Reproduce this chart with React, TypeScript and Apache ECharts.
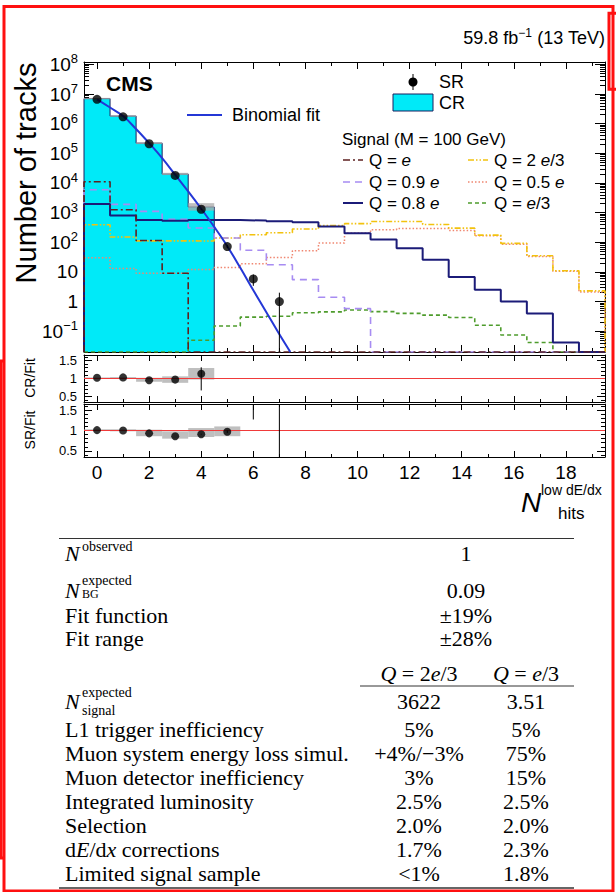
import React, { useEffect, useRef } from 'react';
import * as echarts from 'echarts';

// ---------------- data ----------------
const Y_MIN = 0.02;
const Y_MAX = 1.2e8;
const X_MIN = -0.5;
const X_MAX = 19.5;
const R_MIN = 0.35;
const R_MAX = 1.65;

// control region histogram (bins 0..4)
const crCounts = [7.0e6, 1.8e6, 2.2e5, 2.0e4, 1.55e3];
const crBandLow = [6.6e6, 1.7e6, 2.05e5, 1.85e4, 1.17e3];
const crBandHigh = [7.4e6, 1.9e6, 2.35e5, 2.2e4, 2.09e3];

// signal region observed (bins 0..7)
const srCounts = [6.6e6, 1.7e6, 2.1e5, 1.8e4, 1.3e3, 72, 5.8, 1];
const srErrLow = [6.6e6, 1.7e6, 2.1e5, 1.8e4, 1.26e3, 63.5, 3.4, 0];
const srErrHigh = [6.6e6, 1.7e6, 2.1e5, 1.8e4, 1.34e3, 80.5, 8.2, 2];

// binomial fit
const fitX = [0, 0.5, 1, 1.5, 2, 2.5, 3, 3.5, 4, 4.5, 5, 5.5, 6, 6.5, 7, 7.42];
const fitY = [6.6e6, 3.5e6, 1.8e6, 6.6e5, 2.2e5, 6.9e4, 1.9e4, 5.2e3, 1.35e3, 330, 74, 13.8, 2.4, 0.44, 0.079, 0.02];

// signal (M = 100 GeV) histograms, bins 0..19
const qE = [11000, 1250, 115, 9, 0, 0, 0, 0, 0, 0, 0, 0, 0, 0, 0, 0, 0, 0, 0, 0];
const q2e3 = [390, 150, 112, 112, 110, 140, 180, 210, 280, 370, 425, 500, 500, 400, 300, 175, 92, 35, 11, 2.3];
const q09e = [5900, 1900, 1100, 600, 305, 140, 54, 17.5, 5.5, 1.4, 0.58, 0, 0, 0, 0, 0, 0, 0, 0, 0];
const q05e = [30, 13, 9, 9, 12, 14, 19, 31, 52, 94, 204, 265, 290, 290, 250, 165, 86, 33, 10.5, 2.1];
const q08e = [1950, 800, 560, 530, 560, 560, 540, 510, 470, 340, 200, 125, 63, 26, 6.8, 2.5, 1.0, 0.4, 0.042, 0];
const qE3 = [0, 0, 0, 0, 0.05, 0.15, 0.3, 0.32, 0.42, 0.45, 0.52, 0.46, 0.4, 0.35, 0.29, 0.16, 0.075, 0.042, 0, 0];

// ratio panels
const crRatio = [1.02, 1.03, 0.95, 0.97, 1.13];
const crRatioErrLow = [1.02, 1.03, 0.95, 0.97, 0.67];
const crRatioErrHigh = [1.02, 1.03, 0.95, 0.97, 1.31];
const crRatioBandLow = [1.0, 1.01, 0.91, 0.88, 0.97];
const crRatioBandHigh = [1.03, 1.04, 1.02, 1.06, 1.29];

const srRatio = [1.01, 1.0, 0.93, 0.86, 0.91, 0.97, 2.4, 12.5];
const srRatioErrLow = [1.01, 1.0, 0.93, 0.86, 0.9, 0.94, 1.27, 0];
const srRatioErrHigh = [1.01, 1.0, 0.93, 0.86, 0.92, 1.0, 3.5, 40];
const srRatioBandLow = [0.99, 0.98, 0.86, 0.8, 0.84, 0.86];
const srRatioBandHigh = [1.03, 1.03, 1.02, 0.98, 1.06, 1.1];

// table
const tableUpperLabels = ['Fit function', 'Fit range'];
const tableUpperValues = ['±19%', '±28%'];
const nObserved = '1';
const nExpectedBG = '0.09';
const nSignal = ['3622', '3.51'];
const sysLabels = [
  'L1 trigger inefficiency',
  'Muon system energy loss simul.',
  'Muon detector inefficiency',
  'Integrated luminosity',
  'Selection',
  'd{i|E}/d{i|x} corrections',
  'Limited signal sample',
];
const sys2e3 = ['5%', '+4%/\u22123%', '3%', '2.5%', '2.0%', '1.7%', '<1%'];
const sysE3 = ['5%', '75%', '15%', '2.5%', '2.0%', '2.3%', '1.8%'];

// ---------------- helpers ----------------
const SANS = '"Liberation Sans", Arial, Helvetica, sans-serif';
const SERIF = '"Liberation Serif", "Times New Roman", serif';

function histPoints(values: number[]) {
  const pts: number[][] = [[X_MIN, Y_MIN]];
  values.forEach((v, i) => pts.push([i - 0.5, v > 0 ? v : Y_MIN]));
  const n = values.length;
  const last = values[n - 1] > 0 ? values[n - 1] : Y_MIN;
  pts.push([n - 0.5, last], [n - 0.5, Y_MIN]);
  return pts;
}

function bandSeries(xi: number, yi: number, low: number[], high: number[], z: number) {
  return {
    type: 'custom',
    xAxisIndex: xi,
    yAxisIndex: yi,
    clip: true,
    z,
    silent: true,
    data: low.map((l, i) => [i, l, high[i]]),
    encode: { x: 0, y: [1, 2] },
    renderItem: (_p: any, api: any) => {
      const c = api.value(0);
      const a = api.coord([c - 0.5, api.value(2)]);
      const b = api.coord([c + 0.5, api.value(1)]);
      return {
        type: 'rect',
        shape: { x: a[0], y: a[1], width: b[0] - a[0], height: b[1] - a[1] },
        style: { fill: '#a9a9a9', opacity: 0.75 },
      };
    },
  };
}

function errorSeries(xi: number, yi: number, low: number[], high: number[], floor: number, z: number) {
  return {
    type: 'custom',
    xAxisIndex: xi,
    yAxisIndex: yi,
    clip: true,
    z,
    silent: true,
    data: low.map((l, i) => [i, Math.max(l, floor), high[i]]),
    encode: { x: 0, y: [1, 2] },
    renderItem: (_p: any, api: any) => {
      const c = api.value(0);
      const a = api.coord([c, api.value(1)]);
      const b = api.coord([c, api.value(2)]);
      return {
        type: 'line',
        shape: { x1: a[0], y1: a[1], x2: b[0], y2: b[1] },
        style: { stroke: '#000', lineWidth: 1 },
      };
    },
  };
}

function xAxisDef(gridIndex: number, position: string, labels: boolean, major: number, minor: number) {
  return {
    type: 'value',
    gridIndex,
    position,
    min: X_MIN,
    max: X_MAX,
    splitNumber: 10,
    axisLine: { show: true, onZero: false, lineStyle: { color: '#000', width: 1 } },
    axisTick: { show: true, inside: true, length: major, lineStyle: { color: '#000', width: 1 } },
    minorTick: { show: true, splitNumber: 2, length: minor, lineStyle: { color: '#000', width: 1 } },
    splitLine: { show: false },
    axisLabel: labels
      ? {
          show: true,
          margin: 6,
          fontSize: 19,
          lineHeight: 19,
          fontFamily: SANS,
          color: '#000',
          formatter: (v: number) => (Math.abs(v % 2) < 1e-9 ? String(v) : ''),
        }
      : { show: false },
  };
}

function logYAxisDef(position: string, labels: boolean) {
  return {
    type: 'log',
    logBase: 10,
    gridIndex: 0,
    position,
    min: Y_MIN,
    max: Y_MAX,
    splitNumber: 10,
    axisLine: { show: true, onZero: false, lineStyle: { color: '#000', width: 1 } },
    axisTick: { show: true, inside: true, length: 10, lineStyle: { color: '#000', width: 1 } },
    minorTick: { show: true, splitNumber: 9, length: 5, lineStyle: { color: '#000', width: 1 } },
    splitLine: { show: false },
    axisLabel: labels
      ? {
          show: true,
          margin: 6,
          fontSize: 19,
          lineHeight: 24,
          fontFamily: SANS,
          color: '#000',
          formatter: (v: number) => {
            const e = Math.log10(v);
            const r = Math.round(e);
            if (Math.abs(e - r) > 1e-6) return '';
            if (r === 0) return '1';
            if (r === 1) return '10';
            return '10{s|' + (r < 0 ? '\u2212' + -r : String(r)) + '}';
          },
          rich: {
            s: { fontSize: 13, lineHeight: 13, verticalAlign: 'top', fontFamily: SANS, color: '#000' },
          },
        }
      : { show: false },
  };
}

function ratioYAxisDef(gridIndex: number, position: string, labels: boolean) {
  return {
    type: 'value',
    gridIndex,
    position,
    min: R_MIN,
    max: R_MAX,
    splitNumber: 3,
    axisLine: { show: true, onZero: false, lineStyle: { color: '#000', width: 1 } },
    axisTick: { show: true, inside: true, length: 8, lineStyle: { color: '#000', width: 1 } },
    minorTick: { show: true, splitNumber: 5, length: 4, lineStyle: { color: '#000', width: 1 } },
    splitLine: { show: false },
    axisLabel: labels
      ? {
          show: true,
          margin: 7,
          fontSize: 13,
          lineHeight: 13,
          fontFamily: SANS,
          color: '#000',
          formatter: (v: number) => (Math.abs(v * 2 - Math.round(v * 2)) < 1e-9 ? String(v) : ''),
        }
      : { show: false },
  };
}

function txt(x: number, y: number, text: string, o: any = {}) {
  return {
    type: 'text',
    x,
    y,
    rotation: o.rotation || 0,
    silent: true,
    style: {
      text,
      fill: '#000',
      fontFamily: o.family || SANS,
      fontSize: o.size || 17,
      fontWeight: o.weight || 'normal',
      fontStyle: o.italic ? 'italic' : 'normal',
      align: o.align || 'left',
      verticalAlign: 'middle',
      rich: o.rich,
    },
  };
}

function ln(x1: number, y1: number, x2: number, y2: number, stroke: string, w: number, dash?: number[]) {
  return {
    type: 'line',
    silent: true,
    shape: { x1, y1, x2, y2 },
    style: { stroke, lineWidth: w, lineDash: dash },
  };
}

const signalDefs = [
  { data: q05e, color: '#f08670', dash: [1.5, 2], width: 1.5, label: 'Q = 0.5 {i|e}' },
  { data: q2e3, color: '#f2c20e', dash: [6, 2, 1.5, 2, 1.5, 2], width: 1.6, label: 'Q = 2 {i|e}/3' },
  { data: qE3, color: '#4e9c2c', dash: [4, 3], width: 1.6, label: 'Q = {i|e}/3' },
  { data: q09e, color: '#a78cf2', dash: [7, 5], width: 1.6, label: 'Q = 0.9 {i|e}' },
  { data: q08e, color: '#1b1b78', dash: null as any, width: 2, label: 'Q = 0.8 {i|e}' },
  { data: qE, color: '#5e2020', dash: [7, 3, 2, 3], width: 1.6, label: 'Q = {i|e}' },
];

const CYAN = '#00eaf8';
const FIT_BLUE = '#2437d6';
const RICH_I = { i: { fontStyle: 'italic', fontFamily: SANS, fontSize: 17 } };

function buildOption() {
  const series: any[] = [];

  // CR filled histogram
  series.push({
    type: 'line',
    xAxisIndex: 0,
    yAxisIndex: 0,
    step: 'end',
    symbol: 'none',
    z: 1,
    silent: true,
    data: histPoints(crCounts),
    lineStyle: { color: '#1b1f5e', width: 1 },
    areaStyle: { color: CYAN, opacity: 1, origin: 'start' },
  });
  series.push(bandSeries(0, 0, crBandLow, crBandHigh, 2));

  signalDefs.forEach((s, k) => {
    series.push({
      type: 'line',
      xAxisIndex: 0,
      yAxisIndex: 0,
      step: 'end',
      symbol: 'none',
      z: 3 + k * 0.01,
      silent: true,
      data: histPoints(s.data),
      lineStyle: { color: s.color, width: s.width, type: s.dash || 'solid' },
    });
  });

  // binomial fit
  series.push({
    type: 'line',
    xAxisIndex: 0,
    yAxisIndex: 0,
    symbol: 'none',
    smooth: 0.4,
    z: 4,
    silent: true,
    data: fitX.map((x, i) => [x, fitY[i]]),
    lineStyle: { color: FIT_BLUE, width: 2 },
  });

  // SR points
  series.push(errorSeries(0, 0, srErrLow, srErrHigh, Y_MIN, 5));
  series.push({
    type: 'scatter',
    xAxisIndex: 0,
    yAxisIndex: 0,
    symbol: 'circle',
    symbolSize: 9,
    z: 6,
    silent: true,
    itemStyle: { color: '#000' },
    data: srCounts.map((v, i) => [i, v]),
  });

  // ratio panels
  [
    { xi: 2, yi: 2, r: crRatio, lo: crRatioErrLow, hi: crRatioErrHigh, bl: crRatioBandLow, bh: crRatioBandHigh },
    { xi: 4, yi: 4, r: srRatio, lo: srRatioErrLow, hi: srRatioErrHigh, bl: srRatioBandLow, bh: srRatioBandHigh },
  ].forEach((p) => {
    series.push(bandSeries(p.xi, p.yi, p.bl, p.bh, 2));
    series.push({
      type: 'line',
      xAxisIndex: p.xi,
      yAxisIndex: p.yi,
      symbol: 'none',
      z: 3,
      silent: true,
      data: [
        [X_MIN, 1],
        [X_MAX, 1],
      ],
      lineStyle: { color: '#f03a3a', width: 1 },
    });
    series.push(errorSeries(p.xi, p.yi, p.lo, p.hi, 0, 4));
    series.push({
      type: 'scatter',
      xAxisIndex: p.xi,
      yAxisIndex: p.yi,
      symbol: 'circle',
      symbolSize: 8,
      z: 5,
      silent: true,
      itemStyle: { color: '#000' },
      data: p.r.map((v, i) => [i, v]),
    });
  });

  // ------------- graphic: texts, legend, table, frames -------------
  const g: any[] = [];
  // header texts
  g.push(
    txt(605, 38, '{a|59.8 fb}{s|\u22121}{a| (13 TeV)}', {
      align: 'right',
      rich: {
        a: { fontSize: 18, lineHeight: 22, fontFamily: SANS, color: '#000' },
        s: { fontSize: 12, lineHeight: 12, verticalAlign: 'top', fontFamily: SANS, color: '#000' },
      },
    })
  );
  g.push(txt(106, 83, 'CMS', { size: 21, weight: 'bold' }));
  // axis titles
  g.push(txt(26, 173, 'Number of tracks', { size: 29, rotation: Math.PI / 2, align: 'center' }));
  g.push(txt(30, 378, 'CR/Fit', { size: 14, rotation: Math.PI / 2, align: 'center' }));
  g.push(txt(30, 430, 'SR/Fit', { size: 14, rotation: Math.PI / 2, align: 'center' }));
  g.push(txt(521, 502, 'N', { size: 28, italic: true }));
  g.push(txt(541, 490, 'low dE/dx', { size: 14 }));
  g.push(txt(558, 513, 'hits', { size: 17 }));

  // legend: SR / CR / fit
  g.push(ln(413, 74, 413, 90, '#000', 1));
  g.push({ type: 'circle', silent: true, shape: { cx: 413, cy: 82, r: 4.5 }, style: { fill: '#000' } });
  g.push(txt(439, 82, 'SR', { size: 18 }));
  g.push({
    type: 'rect',
    silent: true,
    shape: { x: 393, y: 94, width: 40, height: 17 },
    style: { fill: CYAN, stroke: '#1b1f5e', lineWidth: 1 },
  });
  g.push(txt(439, 103, 'CR', { size: 18 }));
  g.push(ln(187, 115, 222, 115, FIT_BLUE, 2));
  g.push(txt(232, 115, 'Binomial fit', { size: 18 }));

  // signal legend
  g.push(txt(342, 139, 'Signal (M = 100 GeV)', { size: 17 }));
  const legendOrder = [5, 1, 3, 0, 4, 2]; // Q=e, 2e/3, 0.9e, 0.5e, 0.8e, e/3
  const rowsY = [160, 182, 203];
  legendOrder.forEach((idx, k) => {
    const s = signalDefs[idx];
    const row = Math.floor(k / 2);
    const col = k % 2;
    const x0 = col === 0 ? 343 : 468;
    const y = rowsY[row];
    g.push(ln(x0, y, x0 + 20, y, s.color, s.width, s.dash || undefined));
    g.push(txt(x0 + 26, y, s.label, { size: 17, rich: RICH_I }));
  });

  // table
  const TF = 22;
  const tRich = { i: { fontStyle: 'italic', fontFamily: SERIF, fontSize: TF } };
  g.push(ln(59, 538.5, 574, 538.5, '#333', 1.2));
  // N observed
  g.push(txt(65, 553, 'N', { family: SERIF, size: 22, italic: true }));
  g.push(txt(82, 546, 'observed', { family: SERIF, size: 14 }));
  g.push(txt(466, 553, nObserved, { family: SERIF, size: TF, align: 'center' }));
  // N expected BG
  g.push(txt(65, 590, 'N', { family: SERIF, size: 22, italic: true }));
  g.push(txt(82, 580, 'expected', { family: SERIF, size: 14 }));
  g.push(txt(82, 594, 'BG', { family: SERIF, size: 12 }));
  g.push(txt(466, 590, nExpectedBG, { family: SERIF, size: TF, align: 'center' }));
  tableUpperLabels.forEach((l, i) => {
    const y = 615 + i * 23;
    g.push(txt(65, y, l, { family: SERIF, size: TF }));
    g.push(txt(466, y, tableUpperValues[i], { family: SERIF, size: TF, align: 'center' }));
  });
  // header
  g.push(txt(419, 673, '{i|Q} = 2{i|e}/3', { family: SERIF, size: TF, align: 'center', rich: tRich }));
  g.push(txt(526, 673, '{i|Q} = {i|e}/3', { family: SERIF, size: TF, align: 'center', rich: tRich }));
  g.push(ln(360, 686, 574, 686, '#333', 1));
  // N signal
  g.push(txt(65, 701, 'N', { family: SERIF, size: 22, italic: true }));
  g.push(txt(82, 692, 'expected', { family: SERIF, size: 14 }));
  g.push(txt(82, 710, 'signal', { family: SERIF, size: 14 }));
  g.push(txt(419, 701, nSignal[0], { family: SERIF, size: TF, align: 'center' }));
  g.push(txt(526, 701, nSignal[1], { family: SERIF, size: TF, align: 'center' }));
  sysLabels.forEach((l, i) => {
    const y = 729 + i * 24;
    g.push(txt(65, y, l, { family: SERIF, size: TF, rich: tRich }));
    g.push(txt(419, y, sys2e3[i], { family: SERIF, size: TF, align: 'center' }));
    g.push(txt(526, y, sysE3[i], { family: SERIF, size: TF, align: 'center' }));
  });
  g.push(ln(59, 888, 574, 888, '#333', 1.5));

  // red annotation frames
  g.push({
    type: 'rect',
    silent: true,
    shape: { x: 4, y: 6.5, width: 609, height: 884.5 },
    style: { fill: 'none', stroke: '#ff1010', lineWidth: 3 },
  });
  g.push({
    type: 'rect',
    silent: true,
    shape: { x: 609, y: 13.3, width: 20, height: 76 },
    style: { fill: 'none', stroke: '#ff1010', lineWidth: 3 },
  });
  g.push({
    type: 'polyline',
    silent: true,
    shape: {
      points: [
        [5, 361],
        [1, 361],
        [1, 858],
        [5, 858],
      ],
    },
    style: { fill: 'none', stroke: '#ff1010', lineWidth: 3 },
  });

  return {
    animation: false,
    backgroundColor: '#fff',
    grid: [
      { left: 84, top: 62, width: 521, height: 290 },
      { left: 84, top: 355, width: 521, height: 47 },
      { left: 84, top: 404, width: 521, height: 53 },
    ],
    xAxis: [
      xAxisDef(0, 'bottom', false, 7, 4),
      xAxisDef(0, 'top', false, 7, 4),
      xAxisDef(1, 'bottom', false, 6, 3),
      xAxisDef(1, 'top', false, 6, 3),
      xAxisDef(2, 'bottom', true, 6, 3),
      xAxisDef(2, 'top', false, 6, 3),
    ],
    yAxis: [
      logYAxisDef('left', true),
      logYAxisDef('right', false),
      ratioYAxisDef(1, 'left', true),
      ratioYAxisDef(1, 'right', false),
      ratioYAxisDef(2, 'left', true),
      ratioYAxisDef(2, 'right', false),
    ],
    series,
    graphic: g,
  };
}

export default function App() {
  const ref = useRef<HTMLDivElement>(null);
  useEffect(() => {
    if (!ref.current) return;
    const chart = echarts.init(ref.current, undefined, { renderer: 'svg' });
    chart.setOption(buildOption() as any);
    return () => chart.dispose();
  }, []);
  return (
    <div
      ref={ref}
      style={{ position: 'absolute', left: 0, top: 0, width: 616, height: 892, background: '#fff' }}
    />
  );
}
